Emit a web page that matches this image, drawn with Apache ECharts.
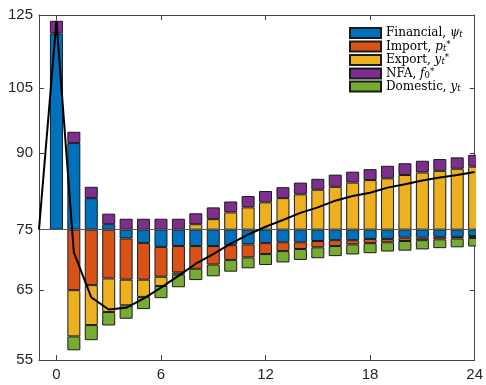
<!DOCTYPE html>
<html><head><meta charset="utf-8">
<script src="https://cdn.jsdelivr.net/npm/echarts@6/dist/echarts.min.js"></script>
<style>html,body{margin:0;padding:0;background:#fff}#c{width:486px;height:385px}</style>
</head><body><div id="c"></div>
<script>
// Periods (horizon); the line starts one period before the shock (t = -1)
const periods = [-1,0,1,2,3,4,5,6,7,8,9,10,11,12,13,14,15,16,17,18,19,20,21,22,23,24];

// Contributions, in log points (100*log deviation from the base level 75); null = no bar
const financial = [null, 46.7, 20.6, 7.5, 1.3, -2.1, -3.2, -4.1, -3.9, -3.9, -3.9, -3.7, -3.5, -3.2, -3.0, -3.0, -2.7, -2.5, -2.5, -2.2, -2.2, -1.9, -1.9, -1.7, -1.7, -1.5];
const importC   = [null, null, -14.4, -13.2, -11.6, -9.8, -8.7, -7.1, -6.3, -5.4, -4.4, -3.5, -3.1, -2.6, -2.1, -1.6, -1.5, -1.4, -1.0, -1.0, -0.8, -0.8, -0.6, -0.6, -0.4, -0.5];
const exportC   = [null, null, -11.0, -9.5, -8.0, -6.1, -4.1, -2.2, -0.5, 1.3, 2.5, 4.1, 5.3, 6.5, 7.5, 8.4, 9.5, 10.2, 11.2, 11.8, 12.2, 13.0, 13.6, 14.0, 14.5, 15.0];
const nfa       = [null, 3.0, 2.7, 2.7, 2.5, 2.6, 2.6, 2.6, 2.6, 2.6, 2.8, 2.6, 2.7, 2.7, 2.6, 2.8, 2.6, 2.9, 2.6, 2.6, 3.0, 2.8, 2.8, 2.8, 2.7, 2.8];
const domestic  = [null, null, -3.3, -3.6, -3.2, -3.2, -2.9, -2.9, -3.0, -2.7, -2.8, -2.8, -2.6, -2.6, -2.7, -2.6, -2.6, -2.4, -2.4, -2.4, -2.2, -2.3, -2.2, -2.1, -2.1, -2.0];
// Total (black line), log points
const total = [0, 49.7, -5.4, -16.1, -19.0, -18.6, -16.4, -13.8, -11.0, -8.1, -5.8, -3.3, -1.2, 0.7, 2.3, 4.0, 5.3, 6.9, 8.0, 8.8, 10.0, 10.8, 11.7, 12.4, 13.0, 13.7];

// Tick labels
const yTickLabels = [55, 65, 75, 90, 105, 125];
const xTickLabels = [0, 6, 12, 18, 24];
const baseLevel = 75;

const seriesNames = ['Financial', 'Import', 'Export', 'NFA', 'Domestic'];
const seriesColors = ['#0072BD', '#D95319', '#EDB120', '#7E2F8E', '#77AC30'];
const seriesData = [financial, importC, exportC, nfa, domestic];
const legendText = {
  'Financial': '{n|Financial, }{i|ψ}{sb|t}',
  'Import': '{n|Import, }{i|p}{sb|t}{sp|*}',
  'Export': '{n|Export, }{i|y}{sb|t}{sp|*}',
  'NFA': '{n|NFA, }{i|f}{su|0}{sp|*}',
  'Domestic': '{n|Domestic, }{i|y}{sb|t}'
};

const toPts = v => 100 * Math.log(v / baseLevel);
const fromPts = p => baseLevel * Math.exp(p / 100);
const yTickPos = yTickLabels.map(toPts);
const yMin = toPts(yTickLabels[0]);
const yMax = toPts(yTickLabels[yTickLabels.length - 1]);
const categories = periods.map(String);
const showX = (idx) => xTickLabels.indexOf(periods[idx]) >= 0;

const axisColor = '#444';
const labelStyle = {color: '#262626', fontFamily: 'Liberation Sans, Arial, sans-serif', fontSize: 15};
const serif = 'DejaVu Serif, serif';

const barSeries = seriesNames.map((name, k) => ({
  name: name,
  type: 'bar',
  stack: 'decomp',
  stackStrategy: 'samesign',
  barWidth: 13,
  clip: true,
  itemStyle: {color: seriesColors[k], borderColor: '#1a1a1a', borderWidth: 1},
  data: seriesData[k],
  z: 2
}));

const xAxisCommon = {
  type: 'category', data: categories, boundaryGap: false,
  axisLine: {show: true, onZero: false, lineStyle: {color: axisColor, width: 1}},
  axisTick: {show: true, inside: true, length: 5, interval: (i) => showX(i), lineStyle: {color: axisColor}},
  splitLine: {show: false}
};

const chart = echarts.init(document.getElementById('c'), null, {renderer: 'canvas'});
chart.setOption({
  animation: false,
  backgroundColor: '#fff',
  grid: {left: 39, right: 11, top: 15, bottom: 25},
  // mask that clips the half bar hanging past the right edge of the plot box
  graphic: [{type: 'rect', right: 0, top: 0, z: 100, silent: true,
    shape: {width: 10, height: 358}, style: {fill: '#fff'}}],
  legend: {
    data: seriesNames,
    orient: 'vertical',
    left: 349, top: 27, padding: 0,
    itemWidth: 31, itemHeight: 10, itemGap: 0.5,
    icon: 'rect',
    selectedMode: false,
    formatter: name => legendText[name],
    textStyle: {
      color: '#000',
      rich: {
        n: {fontFamily: serif, fontSize: 12, lineHeight: 13, color: '#000'},
        i: {fontFamily: serif, fontSize: 12, lineHeight: 13, fontStyle: 'italic', color: '#000'},
        sb: {fontFamily: serif, fontSize: 8.5, lineHeight: 8, fontStyle: 'italic', verticalAlign: 'bottom', color: '#000'},
        su: {fontFamily: serif, fontSize: 8.5, lineHeight: 8, verticalAlign: 'bottom', color: '#000'},
        sp: {fontFamily: serif, fontSize: 8.5, lineHeight: 8, verticalAlign: 'top', color: '#000'}
      }
    }
  },
  xAxis: [
    Object.assign({}, xAxisCommon, {position: 'bottom',
      axisLabel: Object.assign({show: true, interval: (i) => showX(i), margin: 7}, labelStyle)}),
    Object.assign({}, xAxisCommon, {position: 'top', axisLabel: {show: false}})
  ],
  yAxis: [
    {type: 'value', min: yMin, max: yMax, position: 'left',
     axisLine: {show: true, onZero: false, lineStyle: {color: axisColor, width: 1}},
     axisTick: {show: true, inside: true, length: 5, customValues: yTickPos, lineStyle: {color: axisColor}},
     axisLabel: Object.assign({show: true, customValues: yTickPos, margin: 6, formatter: v => String(Math.round(fromPts(v)))}, labelStyle),
     splitLine: {show: false}},
    {type: 'value', min: yMin, max: yMax, position: 'right',
     axisLine: {show: true, onZero: false, lineStyle: {color: axisColor, width: 1}},
     axisTick: {show: true, inside: true, length: 5, customValues: yTickPos, lineStyle: {color: axisColor}},
     axisLabel: {show: false},
     splitLine: {show: false}}
  ],
  series: barSeries.concat([{
    name: 'Total',
    type: 'line',
    data: total,
    symbol: 'none',
    lineStyle: {color: '#000', width: 2},
    z: 5,
    markLine: {
      silent: true,
      symbol: ['none', 'none'],
      label: {show: false},
      lineStyle: {color: '#5a5a5a', width: 1, type: 'solid'},
      data: [{yAxis: 0}]
    }
  }])
});
</script>
</body></html>
